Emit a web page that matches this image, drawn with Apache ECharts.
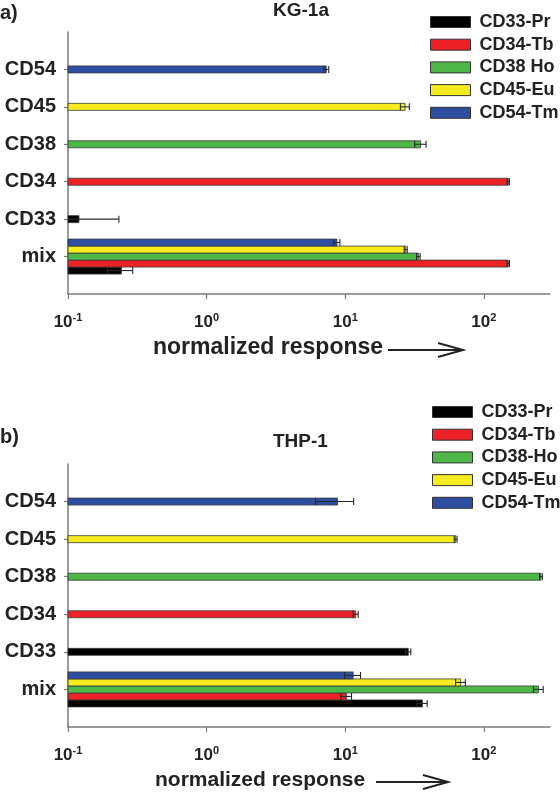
<!DOCTYPE html>
<html><head><meta charset="utf-8">
<script src="https://cdn.jsdelivr.net/npm/echarts@6/dist/echarts.min.js"></script>
<style>html,body{margin:0;padding:0;background:#fff}#c{width:560px;height:792px}</style>
</head><body><div id="c"></div>
<script>
// ---------- data ----------
const categories = ['mix', 'CD33', 'CD34', 'CD38', 'CD45', 'CD54'];
const tickValues = [0.1, 1, 10, 100];
const tickExponents = ['-1', '0', '1', '2'];

// panel a) KG-1a
const namesA = ['CD33-Pr', 'CD34-Tb', 'CD38 Ho', 'CD45-Eu', 'CD54-Tm'];
const kgCD33 = [0.243, 0.12, null, null, null, null];
const kgCD33Err = [0.05, 0.113, null, null, null, null];
const kgCD34 = [150, null, 150, null, null, null];
const kgCD34Err = [3, null, 3, null, null, null];
const kgCD38 = [33.7, null, null, 35, null, null];
const kgCD38Err = [1, null, null, 3.3, null, null];
const kgCD45 = [27.3, null, null, null, 27, null];
const kgCD45Err = [0.7, null, null, null, 2, null];
const kgCD54 = [8.7, null, null, null, null, 7.3];
const kgCD54Err = [0.45, null, null, null, null, 0.3];

// panel b) THP-1
const namesB = ['CD33-Pr', 'CD34-Tb', 'CD38-Ho', 'CD45-Eu', 'CD54-Tm'];
const thCD33 = [36, 28.5, null, null, null, null];
const thCD33Err = [3, 1.2, null, null, null, null];
const thCD34 = [10.2, null, 11.9, null, null, null];
const thCD34Err = [0.9, null, 0.5, null, null, null];
const thCD38 = [248, null, null, 258, null, null];
const thCD38Err = [20, null, null, 6, null, null];
const thCD45 = [68, null, null, null, 62.6, null];
const thCD45Err = [5.5, null, null, null, 1.5, null];
const thCD54 = [11.4, null, null, null, null, 8.8];
const thCD54Err = [1.5, null, null, null, null, 2.7];

// ---------- styling ----------
const colors = ['#000000', '#ec2227', '#4db748', '#f4ec1c', '#2e4ea2'];
const FONT = 'Liberation Sans, Arial, Helvetica, sans-serif';
const X_MIN = 0.1, X_MAX = 300;
const BAR_H = 7;
const AXIS_COLOR = '#7a7a7a';
const yCats = ['_lo'].concat(categories, ['_hi']);

function buildData(vals, errs) {
  const out = [];
  vals.forEach((v, j) => { if (v != null) out.push([v, categories[j], errs[j] || 0]); });
  return out;
}

function makeRender(slot, color) {
  return function (params, api) {
    const v = api.value(0), c = api.value(1), e = api.value(2);
    const off = yCats[c] === 'mix' ? (2 - slot) * BAR_H : 0;
    const p0 = api.coord([X_MIN, c]);
    const p1 = api.coord([v, c]);
    const y = p0[1] + off;
    const children = [{
      type: 'rect',
      shape: { x: p0[0], y: y - BAR_H / 2, width: p1[0] - p0[0], height: BAR_H },
      style: { fill: color, stroke: '#3a3a3a', lineWidth: 0.8 }
    }];
    if (e) {
      const loClamped = v - e <= X_MIN;
      const lo = loClamped ? X_MIN : v - e;
      const xl = api.coord([lo, c])[0];
      const xh = api.coord([v + e, c])[0];
      const es = { stroke: '#2a2a2a', lineWidth: 1.1 };
      children.push({ type: 'line', shape: { x1: xl, y1: y, x2: xh, y2: y }, style: es });
      children.push({ type: 'line', shape: { x1: xh, y1: y - BAR_H / 2, x2: xh, y2: y + BAR_H / 2 }, style: es });
      if (!loClamped) children.push({ type: 'line', shape: { x1: xl, y1: y - BAR_H / 2, x2: xl, y2: y + BAR_H / 2 }, style: es });
    }
    return { type: 'group', children: children };
  };
}

function tickFormatter(v) {
  const i = tickValues.findIndex(t => Math.abs(t - v) / t < 1e-6);
  return i < 0 ? '' : '{b|10}{s|' + tickExponents[i] + '}';
}

function xAxisFor(g) {
  return {
    type: 'log', logBase: 10, min: X_MIN, max: X_MAX, gridIndex: g,
    axisLine: { show: true, onZero: false, lineStyle: { color: AXIS_COLOR, width: 1.5 } },
    axisTick: { show: true, customValues: tickValues, length: 5, lineStyle: { color: AXIS_COLOR, width: 1.2 } },
    minorTick: { show: false },
    splitLine: { show: false },
    axisLabel: {
      show: true, customValues: tickValues, formatter: tickFormatter, margin: 18,
      rich: {
        b: { fontFamily: FONT, fontWeight: 'bold', fontSize: 17, color: '#222', lineHeight: 20 },
        s: { fontFamily: FONT, fontWeight: 'bold', fontSize: 11, color: '#222', verticalAlign: 'top', lineHeight: 11 }
      }
    }
  };
}

function yAxisFor(g) {
  return {
    type: 'category', data: yCats, boundaryGap: false, gridIndex: g,
    axisLine: { show: true, lineStyle: { color: AXIS_COLOR, width: 1.5 } },
    axisTick: { show: true, length: 4, interval: (i, v) => v.charAt(0) !== '_', lineStyle: { color: AXIS_COLOR, width: 1.2 } },
    splitLine: { show: false },
    axisLabel: {
      interval: (i, v) => v.charAt(0) !== '_',
      formatter: v => (v.charAt(0) === '_' ? '' : v),
      margin: 12, fontFamily: FONT, fontWeight: 'bold', fontSize: 20, color: '#222'
    }
  };
}

const panelA = [[kgCD33, kgCD33Err], [kgCD34, kgCD34Err], [kgCD38, kgCD38Err], [kgCD45, kgCD45Err], [kgCD54, kgCD54Err]];
const panelB = [[thCD33, thCD33Err], [thCD34, thCD34Err], [thCD38, thCD38Err], [thCD45, thCD45Err], [thCD54, thCD54Err]];

const series = [];
[[panelA, namesA], [panelB, namesB]].forEach(([panel, names], g) => {
  panel.forEach(([vals, errs], k) => {
    series.push({
      type: 'custom', name: names[k], xAxisIndex: g, yAxisIndex: g,
      encode: { x: 0, y: 1 },
      itemStyle: { color: colors[k] },
      renderItem: makeRender(k, colors[k]),
      data: buildData(vals, errs),
      z: 2
    });
  });
});

function legendFor(names, left, top) {
  return {
    data: names, orient: 'vertical', left: left, top: top, padding: 0,
    itemWidth: 40, itemHeight: 11, itemGap: 4.7, icon: 'rect',
    itemStyle: { borderColor: '#333', borderWidth: 1 },
    selectedMode: false,
    textStyle: { fontFamily: FONT, fontWeight: 'bold', fontSize: 18, color: '#222', lineHeight: 18, padding: [0, 0, 0, 4] }
  };
}

function titleText(text, left, top, size) {
  return { text: text, left: left, top: top, padding: 0,
    textStyle: { fontFamily: FONT, fontWeight: 'bold', fontSize: size, color: '#222' } };
}

function axisTitle(x, y, size, arrowX1, arrowX2) {
  return [
    { type: 'text', left: x, top: y - size / 2 - 2,
      style: { text: 'normalized response', fontFamily: FONT, fontWeight: 'bold', fontSize: size, fill: '#222' } },
    { type: 'line', shape: { x1: arrowX1, y1: y, x2: arrowX2, y2: y }, style: { stroke: '#222', lineWidth: 2 } },
    { type: 'polyline', shape: { points: [[arrowX2 - 25, y - 7], [arrowX2, y], [arrowX2 - 25, y + 7]] }, style: { stroke: '#222', lineWidth: 2, fill: null } }
  ];
}

const chart = echarts.init(document.getElementById('c'), null, { renderer: 'canvas' });
chart.setOption({
  animation: false,
  backgroundColor: '#fff',
  title: [
    titleText('a)', 0, 3, 20),
    titleText('KG-1a', 273, 1, 19),
    titleText('b)', 0, 427, 20),
    titleText('THP-1', 273, 432, 19)
  ],
  legend: [legendFor(namesA, 430, 13), legendFor(namesB, 432, 403)],
  grid: [
    { left: 68, top: 32, width: 482, height: 262 },
    { left: 68, top: 464, width: 482, height: 263 }
  ],
  xAxis: [xAxisFor(0), xAxisFor(1)],
  yAxis: [yAxisFor(0), yAxisFor(1)],
  graphic: axisTitle(153, 350, 23, 388, 463).concat(axisTitle(155, 782, 21, 376, 448)),
  series: series
});
</script></body></html>
